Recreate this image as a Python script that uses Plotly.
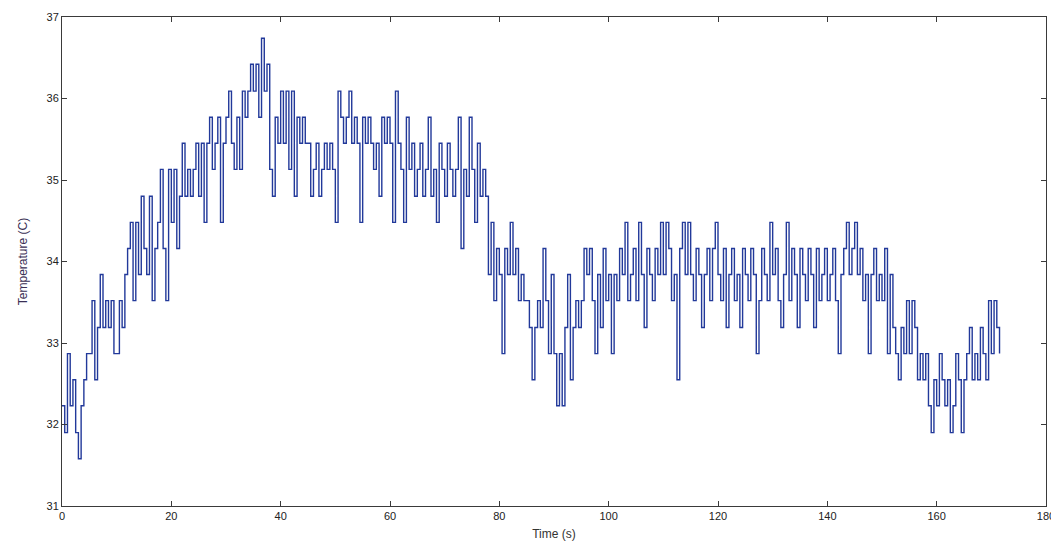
import plotly.graph_objects as go

# Sampling: one reading every 0.5 s starting at t = 0
t_start_s = 0.0
sample_step_s = 0.5

# Temperature readings (C), 5 s per row
temperature_c = [
    32.23, 31.90, 32.87, 32.23, 32.55, 31.90, 31.58, 32.23, 32.55, 32.87,
    32.87, 33.52, 32.55, 33.19, 33.84, 33.19, 33.52, 33.19, 33.52, 32.87,
    32.87, 33.52, 33.19, 33.84, 34.16, 34.48, 33.52, 34.48, 33.84, 34.80,
    34.16, 33.84, 34.80, 33.52, 34.16, 34.48, 35.13, 34.16, 33.52, 35.13,
    34.48, 35.13, 34.16, 34.80, 35.45, 34.80, 35.13, 34.80, 35.13, 35.45,
    34.80, 35.45, 34.48, 35.45, 35.77, 35.13, 35.45, 35.77, 34.48, 35.45,
    35.77, 36.09, 35.45, 35.13, 35.77, 35.13, 36.09, 35.77, 36.09, 36.42,
    36.09, 36.42, 35.77, 36.74, 36.09, 36.42, 35.13, 34.80, 35.77, 35.45,
    36.09, 35.45, 36.09, 35.13, 36.09, 34.80, 35.77, 35.45, 35.77, 35.45,
    35.45, 34.80, 35.13, 35.45, 34.80, 35.13, 35.45, 35.13, 35.45, 35.13,
    34.48, 36.09, 35.77, 35.45, 35.77, 36.09, 35.45, 35.77, 35.45, 34.48,
    35.77, 35.45, 35.77, 35.45, 35.13, 35.45, 34.80, 35.77, 35.45, 35.77,
    35.45, 34.48, 36.09, 35.45, 35.13, 34.48, 35.77, 35.13, 35.45, 34.80,
    35.13, 35.45, 34.80, 35.13, 35.77, 34.80, 35.13, 34.48, 35.45, 35.13,
    34.80, 35.45, 35.13, 34.80, 35.13, 35.77, 34.16, 35.13, 34.80, 35.77,
    35.13, 34.48, 35.45, 34.80, 35.13, 34.80, 33.84, 34.48, 33.52, 34.16,
    33.84, 32.87, 34.16, 33.84, 34.48, 33.84, 34.16, 33.52, 33.84, 33.52,
    33.52, 33.19, 32.55, 33.19, 33.52, 33.19, 34.16, 33.52, 32.87, 33.84,
    32.87, 32.23, 32.87, 32.23, 33.19, 33.84, 32.55, 33.19, 33.52, 33.19,
    33.52, 34.16, 33.84, 34.16, 33.52, 32.87, 33.84, 33.19, 34.16, 33.52,
    33.84, 32.87, 33.84, 33.52, 34.16, 33.84, 34.48, 33.52, 33.84, 34.16,
    33.52, 34.48, 33.84, 33.19, 34.16, 33.84, 33.52, 34.16, 33.84, 34.48,
    33.84, 34.48, 34.16, 33.52, 33.84, 32.55, 34.16, 34.48, 33.84, 34.48,
    33.84, 33.52, 34.16, 33.84, 33.19, 33.84, 34.16, 33.52, 34.16, 34.48,
    33.84, 33.52, 34.16, 33.19, 33.84, 34.16, 33.52, 33.84, 33.19, 34.16,
    33.84, 33.52, 34.16, 33.84, 32.87, 33.52, 34.16, 33.84, 33.52, 34.48,
    33.84, 34.16, 33.52, 33.19, 33.84, 34.48, 33.52, 34.16, 33.84, 33.19,
    34.16, 33.84, 33.52, 34.16, 33.84, 33.19, 34.16, 33.52, 33.84, 34.16,
    33.52, 33.84, 34.16, 33.52, 32.87, 33.84, 34.16, 34.48, 33.84, 34.16,
    34.48, 33.84, 34.16, 33.52, 33.84, 32.87, 33.84, 34.16, 33.52, 33.84,
    33.52, 34.16, 32.87, 33.84, 33.19, 32.87, 32.55, 33.19, 32.87, 33.52,
    32.87, 33.52, 33.19, 32.55, 32.87, 32.55, 32.87, 32.23, 31.90, 32.55,
    32.23, 32.87, 32.55, 32.23, 32.55, 31.90, 32.23, 32.87, 32.55, 31.90,
    32.55, 32.87, 33.19, 32.55, 32.87, 32.55, 33.19, 32.87, 32.55, 33.52,
    32.87, 33.52, 33.19, 32.87,
]

x_ticks = [0, 20, 40, 60, 80, 100, 120, 140, 160, 180]
y_ticks = [31, 32, 33, 34, 35, 36, 37]

fig = go.Figure()
fig.add_trace(go.Scatter(
    x0=t_start_s, dx=sample_step_s, y=temperature_c,
    mode="lines",
    line=dict(color="#22399a", width=1.4, shape="hv"),
    showlegend=False,
))

axis_common = dict(
    showgrid=False, zeroline=False, automargin=False,
    showline=True, linecolor="#3a3a3a", linewidth=1,
    mirror="allticks", ticks="inside", ticklen=5, tickcolor="#3a3a3a",
    tickfont=dict(family="Liberation Sans, Arial, sans-serif", size=11, color="#222222"),
)

# The page body adds an 8 px offset, so the figure is sized to fit the window
fig.update_layout(
    width=1051, height=533,
    margin=dict(l=54, r=13, t=9, b=35),
    paper_bgcolor="white", plot_bgcolor="white",
    font=dict(family="Liberation Sans, Arial, sans-serif", size=11, color="#222222"),
    xaxis=dict(range=[0, 180], tickvals=x_ticks, ticktext=[str(v) for v in x_ticks],
               title=dict(text="Time (s)", standoff=8, font=dict(size=12, color="#333333")),
               **axis_common),
    yaxis=dict(range=[31, 37], tickvals=y_ticks, ticktext=[str(v) for v in y_ticks],
               title=dict(text="Temperature (C)", standoff=16, font=dict(size=12, color="#3a2f55")),
               **axis_common),
)

fig.write_html("out.html")
